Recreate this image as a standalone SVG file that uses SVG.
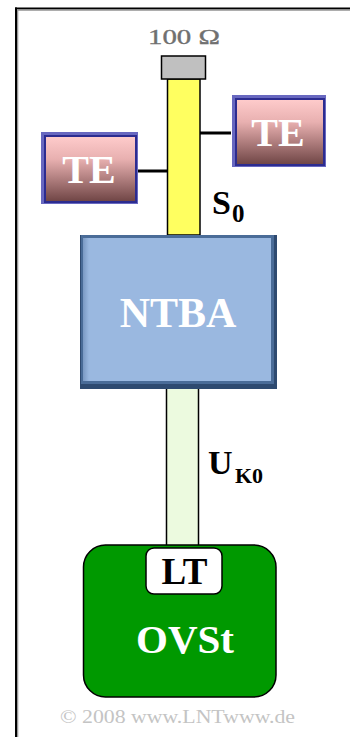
<svg xmlns="http://www.w3.org/2000/svg" width="350" height="737" viewBox="0 0 350 737">
  <defs>
    <linearGradient id="teFill" x1="0" y1="0" x2="0" y2="1">
      <stop offset="0" stop-color="#ffcccc"/>
      <stop offset="0.35" stop-color="#e8b0b0"/>
      <stop offset="1" stop-color="#6e4444"/>
    </linearGradient>
    <linearGradient id="ntbaEdgeL" x1="0" y1="0" x2="1" y2="0">
      <stop offset="0" stop-color="#5a7aa6"/>
      <stop offset="1" stop-color="#9ab8e0"/>
    </linearGradient>
    <style>
      .serif { font-family: "Liberation Serif", "DejaVu Serif", serif; }
      .wire { stroke: #000; stroke-width: 3; fill: none; }
      .bar { stroke: #000; stroke-width: 1.5; }
      .te-outer { fill: #6868c0; }
      .te-inner { fill: url(#teFill); stroke: #2c2c90; stroke-width: 2; }
      .te-label { fill: #fff; font-size: 40px; font-weight: bold; text-anchor: middle; }
      .bus-label { fill: #000; font-weight: bold; }
    </style>
  </defs>

  <rect x="0" y="0" width="350" height="737" fill="#fff"/>

  <!-- frame -->
  <g id="frame">
    <rect x="15" y="7.5" width="335" height="2" fill="#000"/>
    <rect x="17" y="9.5" width="333" height="1.3" fill="#999"/>
    <rect x="15" y="7.5" width="2" height="730" fill="#000"/>
    <rect x="17" y="9.5" width="1.3" height="728" fill="#999"/>
  </g>

  <!-- bus lines and stubs -->
  <g id="connectors">
    <rect id="s0-bus" class="bar" x="167.5" y="79" width="32.5" height="156" fill="#ffff60"/>
    <rect id="uk0-line" class="bar" x="166.5" y="388" width="32" height="158" fill="#ecfadf"/>
    <line class="wire" x1="200" y1="133" x2="231" y2="133"/>
    <line class="wire" x1="138" y1="171" x2="167" y2="171"/>
  </g>

  <!-- terminating resistor -->
  <g id="resistor">
    <rect x="161.5" y="56" width="44" height="23" fill="#c0c0c0" stroke="#000" stroke-width="1.5"/>
    <text class="serif" x="184" y="44" font-size="22" fill="#707070" stroke="#707070" stroke-width="0.4" text-anchor="middle" textLength="72" lengthAdjust="spacingAndGlyphs">100 Ω</text>
  </g>

  <!-- terminal equipment -->
  <g id="te-right">
    <rect class="te-outer" x="232" y="95" width="94" height="72"/>
    <rect class="te-inner" x="236" y="99" width="88" height="66"/>
    <text class="serif te-label" x="278" y="146">TE</text>
  </g>
  <g id="te-left">
    <rect class="te-outer" x="41" y="132" width="97" height="72"/>
    <rect class="te-inner" x="45" y="136" width="91" height="66"/>
    <text class="serif te-label" x="89" y="183">TE</text>
  </g>

  <!-- bus labels -->
  <g id="label-s0" class="serif bus-label">
    <text x="212" y="214" font-size="34">S</text>
    <text x="232" y="222" font-size="25">0</text>
  </g>
  <g id="label-uk0" class="serif bus-label">
    <text x="208" y="474" font-size="34">U</text>
    <text x="235" y="483" font-size="22">K0</text>
  </g>

  <!-- network termination -->
  <g id="ntba">
    <rect x="80" y="235" width="197" height="154" fill="#2e4a70"/>
    <rect x="81" y="235" width="193" height="149" fill="#4a6c98"/>
    <rect x="83" y="238" width="188" height="143" fill="#9ab8e0"/>
    <rect x="83" y="238" width="6" height="143" fill="url(#ntbaEdgeL)" opacity="0.5"/>
    <text class="serif" x="178" y="327" font-size="42" font-weight="bold" fill="#fff" text-anchor="middle">NTBA</text>
  </g>

  <!-- local exchange with line termination -->
  <g id="ovst">
    <rect x="83.5" y="545" width="192.5" height="152" rx="22" ry="22" fill="#009900" stroke="#000" stroke-width="1.5"/>
    <text class="serif" x="185" y="653" font-size="41" font-weight="bold" fill="#fff" text-anchor="middle">OVSt</text>
  </g>
  <g id="lt">
    <rect x="146" y="548" width="76" height="46" rx="8" ry="8" fill="#fff" stroke="#000" stroke-width="1.5"/>
    <text class="serif" x="184.5" y="584" font-size="37" font-weight="bold" fill="#000" text-anchor="middle">LT</text>
  </g>

  <text class="serif" x="60" y="723" font-size="19" fill="#c4c4c4" textLength="235" lengthAdjust="spacingAndGlyphs">© 2008 www.LNTwww.de</text>
</svg>
